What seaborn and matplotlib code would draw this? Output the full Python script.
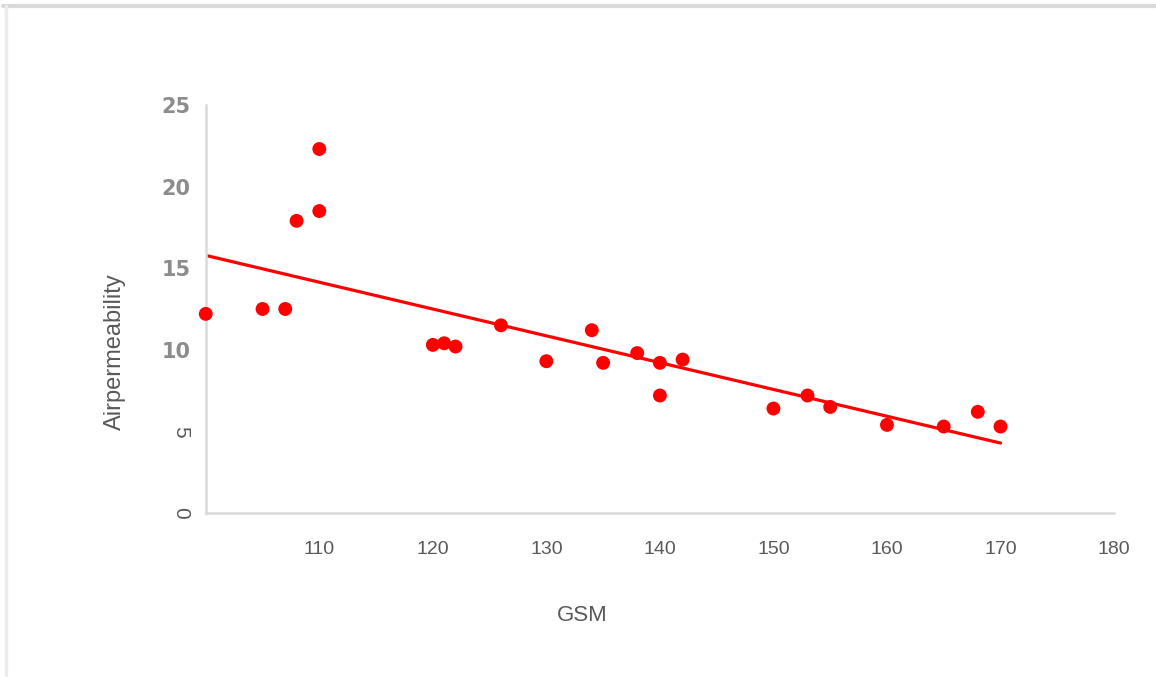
import numpy as np
import pandas as pd
import matplotlib
matplotlib.use("Agg")
import matplotlib.pyplot as plt
import seaborn as sns
from matplotlib.lines import Line2D

# data
gsm = [100, 105, 107, 108, 110, 110, 120, 121, 122, 126, 130, 134,
       135, 138, 140, 140, 142, 150, 153, 155, 160, 165, 168, 170]
air = [12.2, 12.5, 12.5, 17.9, 18.5, 22.3, 10.3, 10.4, 10.2, 11.5, 9.3, 11.2,
       9.2, 9.8, 9.2, 7.2, 9.4, 6.4, 7.2, 6.5, 5.4, 5.3, 6.2, 5.3]
x_ticks = [110, 120, 130, 140, 150, 160, 170, 180]
y_ticks = [0, 5, 10, 15, 20, 25]
y_ticklabels = ["0", "5", "10", "15", "20", "25"]

df = pd.DataFrame({"GSM": gsm, "Airpermeability": air})

sns.set_style("white")
plt.rcParams["font.family"] = ["Liberation Sans", "DejaVu Sans"]

fig = plt.figure(figsize=(11.56, 6.77), dpi=100)
ax = fig.add_axes([0.178, 0.2422, 0.9637 - 0.178, 0.845 - 0.2422])

sns.regplot(data=df, x="GSM", y="Airpermeability", ax=ax, ci=None,
            scatter_kws={"s": 100, "color": "#ff0000", "edgecolor": "none",
                         "alpha": 1, "clip_on": False, "zorder": 3},
            line_kws={"color": "#ff0000", "lw": 2.3})

ax.set_xlim(100, 180)
ax.set_ylim(0, 25)
ax.set_xticks(x_ticks)
ax.set_xticklabels([str(v) for v in x_ticks], fontsize=14, color="#595959")
ax.set_yticks(y_ticks)
ax.set_yticklabels(y_ticklabels)
for lab in ax.get_yticklabels():
    if lab.get_text() in ("0", "5"):
        lab.set_rotation(-90)
        lab.set_fontsize(15)
        lab.set_color("#595959")
        lab.set_va("center")
    else:
        lab.set_family("DejaVu Sans")
        lab.set_fontweight("bold")
        lab.set_fontsize(15)
        lab.set_color("#8c8c8c")
ax.tick_params(axis="x", length=0, pad=20)
ax.tick_params(axis="y", length=0, pad=11)

ax.set_xlabel("GSM", fontsize=16, color="#595959")
ax.xaxis.set_label_coords(0.415, -0.225)
ax.set_ylabel("Airpermeability", fontsize=17, color="#595959")
ax.yaxis.set_label_coords(-0.088, 0.395)

for side in ["top", "right"]:
    ax.spines[side].set_visible(False)
for side in ["left", "bottom"]:
    ax.spines[side].set_color("#d9d9d9")
    ax.spines[side].set_linewidth(1.8)

# light frame around the picture
fig.add_artist(Line2D([0.003, 1.0], [0.991, 0.991], color="#d9d9d9", lw=3))
fig.add_artist(Line2D([0.0055, 0.0055], [0.003, 0.991], color="#ececec", lw=2.5))

fig.savefig("out.png", dpi=100)
